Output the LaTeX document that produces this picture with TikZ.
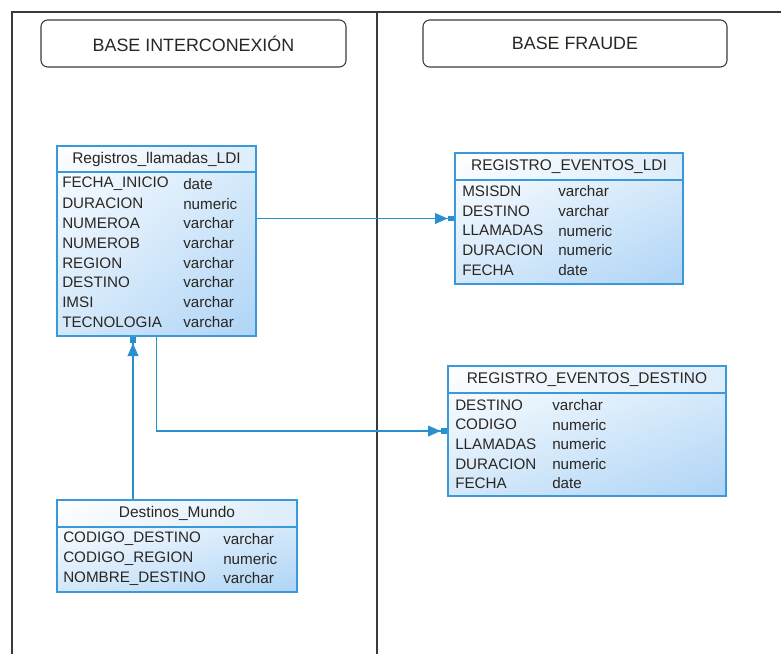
\documentclass[tikz,border=0pt]{standalone}
\usepackage{fontspec}
\setmainfont{Liberation Sans}
\usetikzlibrary{arrows.meta,fit,shadings}
\definecolor{tblborder}{HTML}{3A9AD9}
\definecolor{conn}{HTML}{2A8FCF}
\definecolor{fillA}{HTML}{F7FBFF}
\definecolor{fillB}{HTML}{AFD4F6}
\definecolor{fillM}{HTML}{D3E8FA}
\definecolor{hdrB}{HTML}{DDEDFB}
\definecolor{txt}{HTML}{2A2622}
\definecolor{framec}{HTML}{3A3A3A}
\tikzset{
  framel/.style={draw=framec, line width=1.1pt},
  hdrbox/.style={draw=framec, line width=0.8pt, rounded corners=5pt, text=txt,
    font=\fontsize{13.4}{15}\selectfont, inner sep=0pt},
  hdrshade/.style={upper left=white, upper right=hdrB, lower left=fillA, lower right=hdrB},
  bodyshade/.style={upper left=fillA, upper right=fillM, lower left=fillM, lower right=fillB},
  tblframe/.style={draw=tblborder, line width=1pt, inner sep=0pt},
  tbltitle/.style={text=txt, font=\fontsize{11.6}{14}\selectfont, inner sep=0pt},
  cell/.style={text=txt, font=\fontsize{11.4}{14}\selectfont, anchor=west, inner sep=0pt},
  conn/.style={draw=conn, line width=1.3pt,
    -{Triangle[length=9.5pt,width=8pt]Rectangle[length=5pt,width=4pt]}}
}
\begin{document}
\begin{tikzpicture}[x=0.75pt,y=-0.75pt]
\useasboundingbox (0,0) rectangle (781,654);
% frame
\draw[framel] (781,12) -- (12,12) -- (12,654);
\draw[framel] (377,12) -- (377,654);
% headers
\node[hdrbox, minimum width=228.75pt, minimum height=35.25pt] (bi) at (193.5,43.5) {BASE INTERCONEXIÓN};
\node[hdrbox, minimum width=228pt, minimum height=35.25pt] (bf) at (575,43.5) {BASE FRAUDE};

% Registros_llamadas_LDI
\shade[hdrshade] (57,146) rectangle (256,172);
\shade[bodyshade] (57,172) rectangle (256,336);
\draw[tblborder, line width=1pt] (57,172) -- (256,172);
\node[tblframe, fit={(57,146)(256,336)}] (reg) {};
\node[tbltitle] (regt) at (156.5,159) {Registros\_llamadas\_LDI};
\foreach \a/\b [count=\i from 0] in {FECHA\_INICIO/date, DURACION/numeric, NUMEROA/varchar, NUMEROB/varchar, REGION/varchar, DESTINO/varchar, IMSI/varchar, TECNOLOGIA/varchar}{
  \node[cell] (rega\i) at (62,184+19.7*\i) {\a};
  \node[cell] (regb\i) at (183,184+19.7*\i) {\b};
}

% REGISTRO_EVENTOS_LDI
\shade[hdrshade] (455,153) rectangle (683,180);
\shade[bodyshade] (455,180) rectangle (683,284);
\draw[tblborder, line width=1pt] (455,180) -- (683,180);
\node[tblframe, fit={(455,153)(683,284)}] (rel) {};
\node[tbltitle] (relt) at (569,166.5) {REGISTRO\_EVENTOS\_LDI};
\foreach \a/\b [count=\i from 0] in {MSISDN/varchar, DESTINO/varchar, LLAMADAS/numeric, DURACION/numeric, FECHA/date}{
  \node[cell] (rela\i) at (462,191+19.8*\i) {\a};
  \node[cell] (relb\i) at (558,191+19.8*\i) {\b};
}

% REGISTRO_EVENTOS_DESTINO
\shade[hdrshade] (448,366) rectangle (726,393);
\shade[bodyshade] (448,393) rectangle (726,496);
\draw[tblborder, line width=1pt] (448,393) -- (726,393);
\node[tblframe, fit={(448,366)(726,496)}] (red) {};
\node[tbltitle] (redt) at (587,379.5) {REGISTRO\_EVENTOS\_DESTINO};
\foreach \a/\b [count=\i from 0] in {DESTINO/varchar, CODIGO/numeric, LLAMADAS/numeric, DURACION/numeric, FECHA/date}{
  \node[cell] (reda\i) at (455,405+19.6*\i) {\a};
  \node[cell] (redb\i) at (552,405+19.6*\i) {\b};
}

% Destinos_Mundo
\shade[hdrshade] (57,500) rectangle (297,527);
\shade[bodyshade] (57,527) rectangle (297,592);
\draw[tblborder, line width=1pt] (57,527) -- (297,527);
\node[tblframe, fit={(57,500)(297,592)}] (dm) {};
\node[tbltitle] (dmt) at (177,513.5) {Destinos\_Mundo};
\foreach \a/\b [count=\i from 0] in {CODIGO\_DESTINO/varchar, CODIGO\_REGION/numeric, NOMBRE\_DESTINO/varchar}{
  \node[cell] (dma\i) at (63,539+19.6*\i) {\a};
  \node[cell] (dmb\i) at (223,539+19.6*\i) {\b};
}

% connectors
\coordinate (upx) at (133,0);
\draw[conn] (reg.east |- rel.west) -- (rel.west);
\draw[conn] (reg.south) |- (red.west);
\draw[conn] (dm.north -| upx) -- (reg.south -| upx);
\end{tikzpicture}
\end{document}
